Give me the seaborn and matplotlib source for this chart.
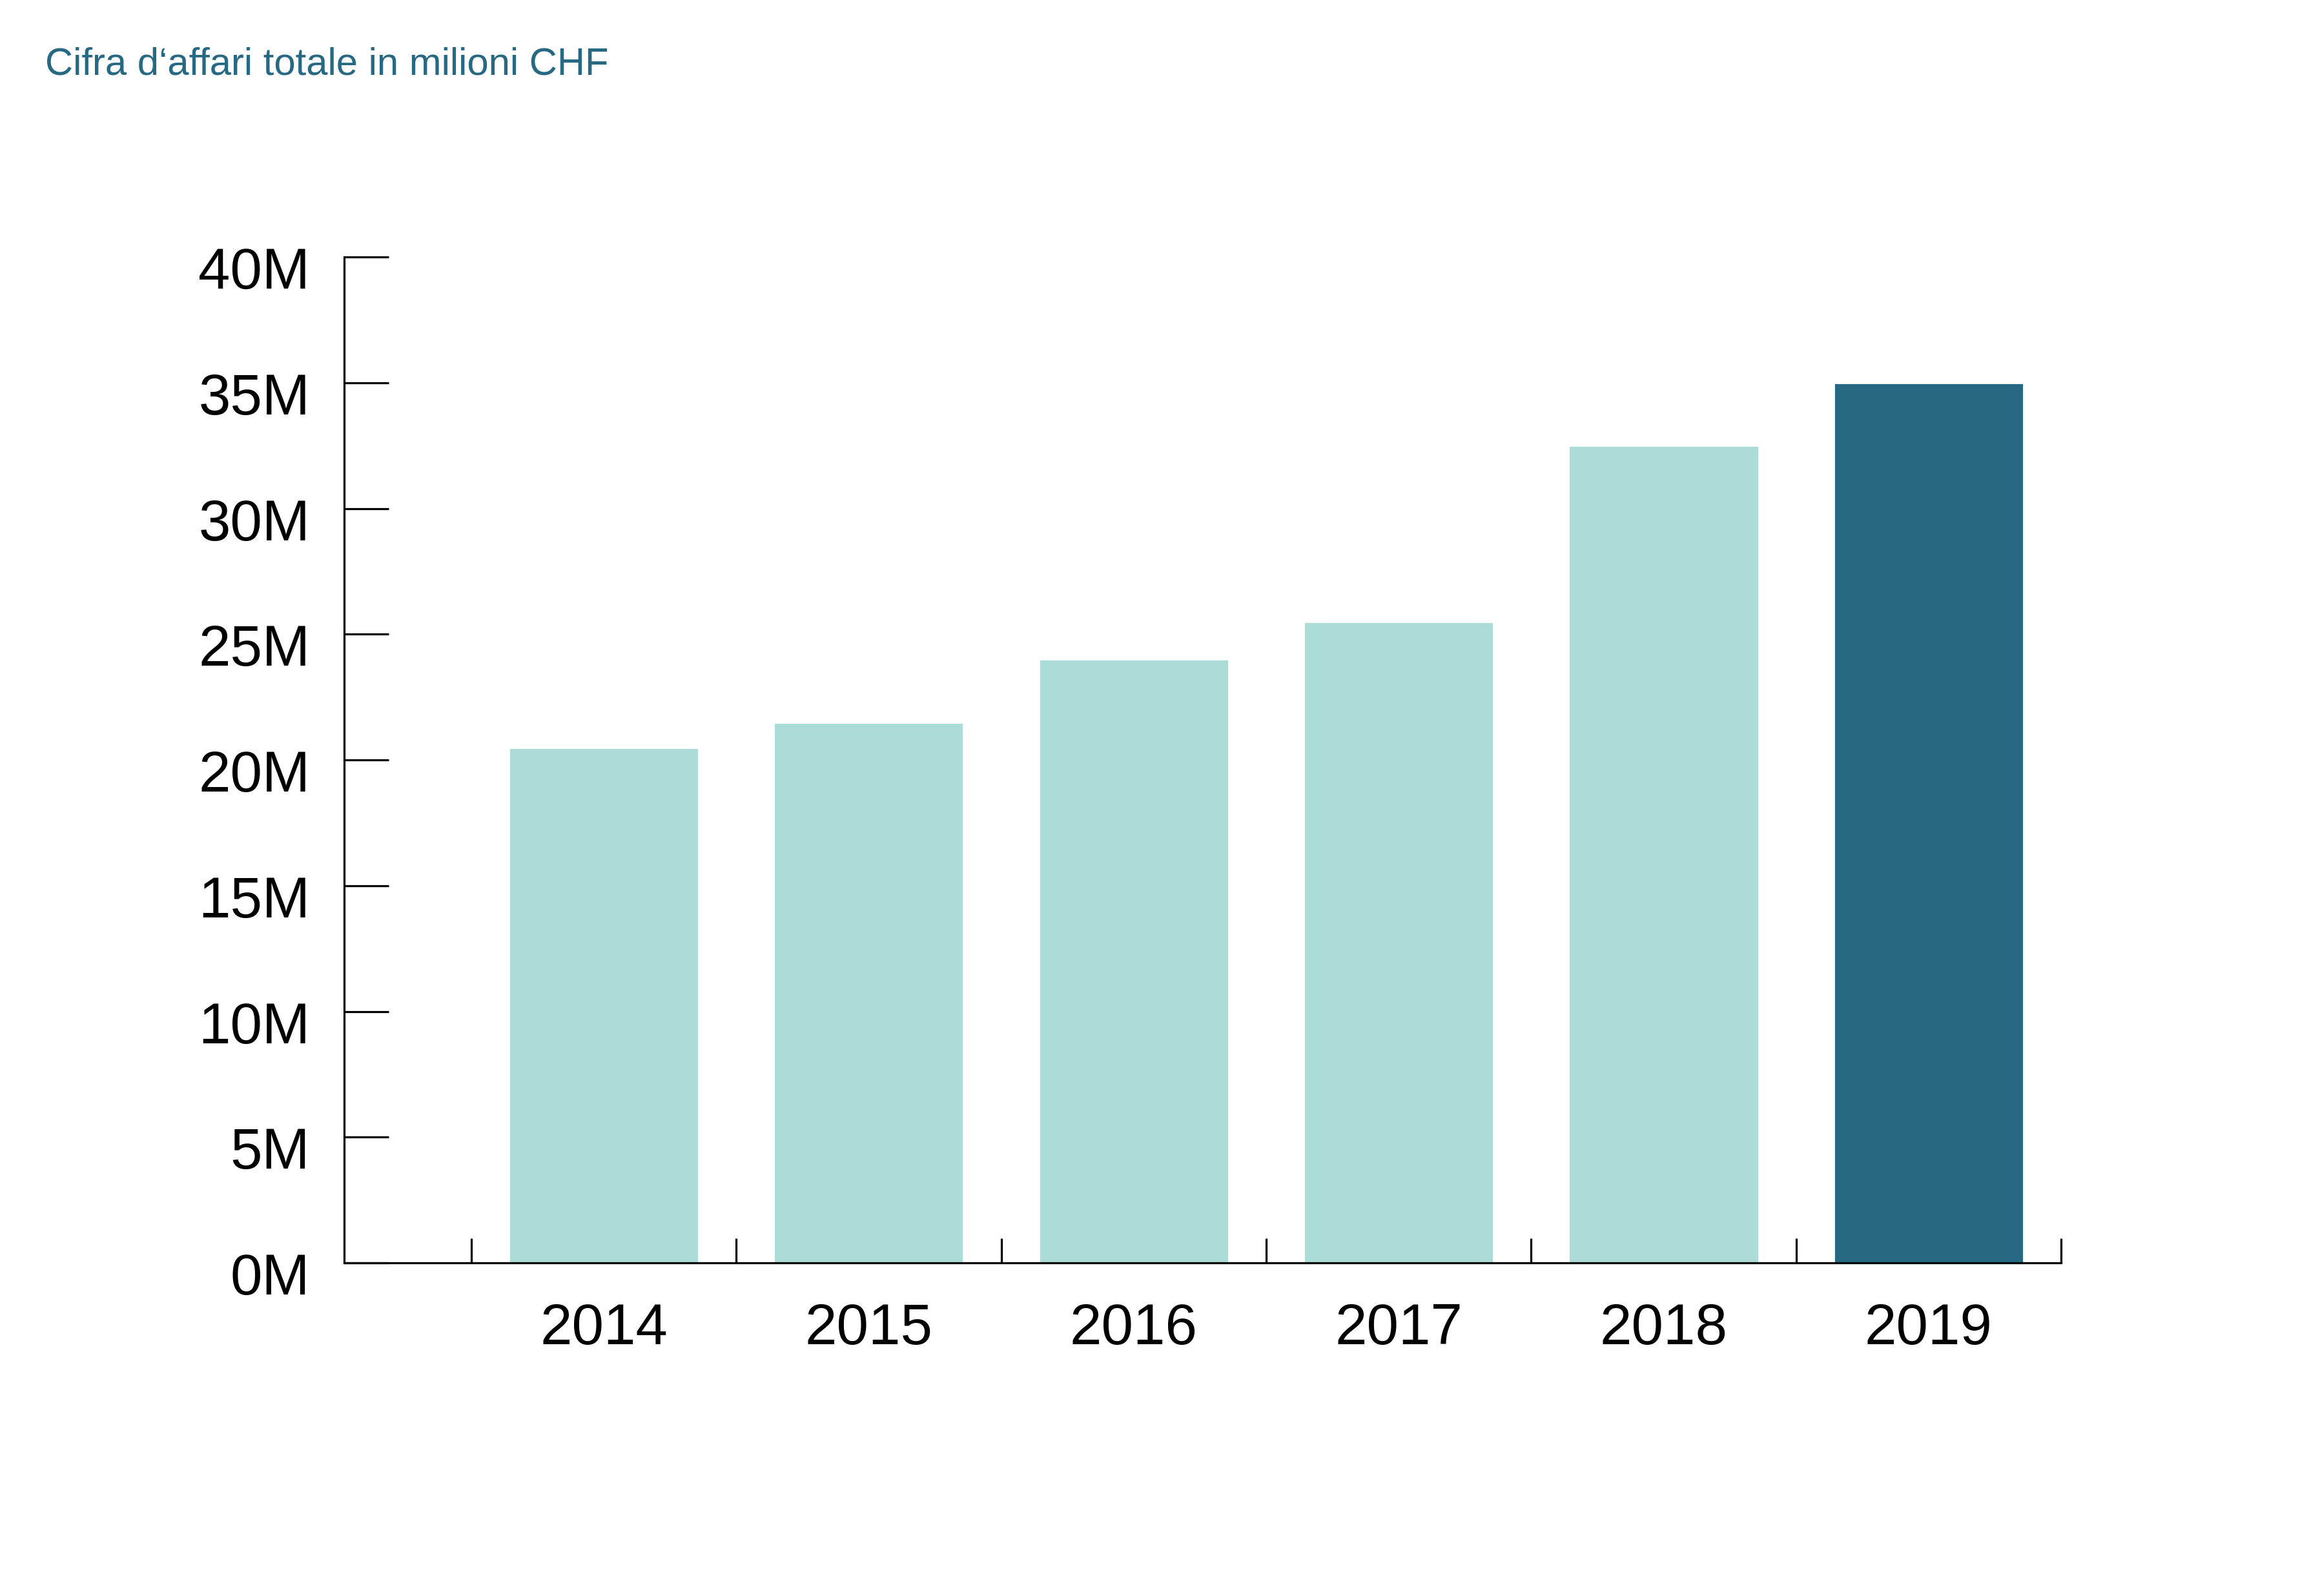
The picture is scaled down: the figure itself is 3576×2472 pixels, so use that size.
import pandas as pd
import matplotlib.pyplot as plt
import matplotlib.transforms as mtransforms
import seaborn as sns

# data (values in millions CHF)
years = ["2014", "2015", "2016", "2017", "2018", "2019"]
revenue = [20.5, 21.5, 24.0, 25.5, 32.5, 35.0]
group = ["past", "past", "past", "past", "past", "current"]
y_ticks = [0, 5, 10, 15, 20, 25, 30, 35, 40]
y_tick_labels = [f"{t}M" for t in y_ticks]
title = "Cifra d\u2018affari totale in milioni CHF"

light = "#acdcd8"
dark = "#276882"

sns.set_style("white")
plt.rcParams["font.family"] = ["Liberation Sans", "DejaVu Sans"]

df = pd.DataFrame({"year": years, "revenue": revenue, "group": group})

fig = plt.figure(figsize=(17.88, 12.36), dpi=200)
ax = fig.add_axes([0.149, 0.2087, 0.7436, 0.6303])

sns.barplot(data=df, x="year", y="revenue", hue="group", order=years,
            palette={"past": light, "current": dark}, width=0.717,
            dodge=False, legend=False, saturation=1, ax=ax)

ax.set_xlim(-0.98, 5.5)
ax.set_ylim(0, 40)
ax.set_xlabel("")
ax.set_ylabel("")

# y axis: ticks pointing inward, labels "xM"
ax.set_yticks(y_ticks)
ax.set_yticklabels(y_tick_labels)
ax.tick_params(axis="y", direction="in", length=25, width=1.15,
               color="black", labelcolor="black", labelsize=32, pad=19,
               left=True)

# x axis: labels at bar centers, tick marks between categories
ax.set_xticks(range(len(years)))
ax.set_xticklabels(years)
ax.set_xticks([i - 0.5 for i in range(len(years) + 1)], minor=True)
ax.tick_params(axis="x", which="major", length=0, labelsize=32, pad=22,
               labelcolor="black")
ax.tick_params(axis="x", which="minor", direction="in", length=13.7,
               width=1.15, color="black", bottom=True)

for side in ["top", "right"]:
    ax.spines[side].set_visible(False)
for side in ["left", "bottom"]:
    ax.spines[side].set_color("black")
    ax.spines[side].set_linewidth(1.15)

# nudge y labels slightly down like the original
offset = mtransforms.ScaledTranslation(0, -6 / 72, fig.dpi_scale_trans)
for lbl in ax.get_yticklabels():
    lbl.set_transform(lbl.get_transform() + offset)

fig.text(0.0196, 1 - 115 / 2472, title, color=dark, fontsize=21.5,
         ha="left", va="baseline")

fig.savefig("out.png", dpi=200, facecolor="white")
